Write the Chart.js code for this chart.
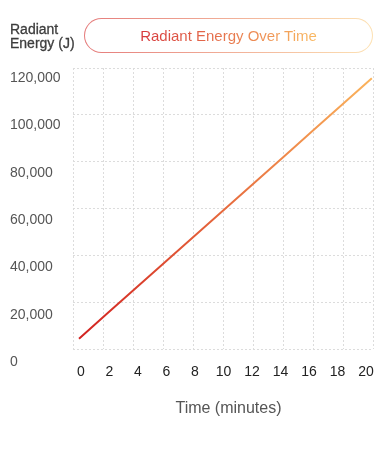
<!DOCTYPE html>
<html>
<head>
<meta charset="utf-8">
<script src="https://cdn.jsdelivr.net/npm/chart.js@4.4.1/dist/chart.umd.min.js"></script>
<style>
  html, body { margin: 0; padding: 0; background: #fff; }
  body { width: 375px; height: 450px; position: relative; overflow: hidden; font-family: 'Liberation Sans', Arial, sans-serif; }
  #wrap { position: absolute; left: 0; top: 0; width: 375px; height: 450px; }
  #ylab { position: absolute; left: 10px; top: 22px; font-size: 14px; line-height: 14px; color: #3d3d3d; white-space: nowrap; -webkit-text-stroke: 0.3px #3d3d3d; }
  #pill { position: absolute; left: 84px; top: 18px; width: 287px; height: 33px; border-radius: 18px;
          border: 1px solid transparent;
          background: linear-gradient(#fff, #fff) padding-box, linear-gradient(90deg, #e57b7b, #fde2b4) border-box;
          text-align: center; line-height: 33px; }
  #pill span { font-size: 15px; background: linear-gradient(90deg, #d6383c, #f9b961); -webkit-background-clip: text; background-clip: text; color: transparent; }
  #xlab { position: absolute; left: 128.5px; width: 200px; top: 400px; text-align: center; font-size: 16px; line-height: 16px; color: #555; }
</style>
</head>
<body>
<div id="wrap"><canvas id="c"></canvas></div>
<div id="ylab">Radiant<br>Energy (J)</div>
<div id="pill"><span>Radiant Energy Over Time</span></div>
<div id="xlab">Time (minutes)</div>
<script>
// ---- data ----
const times = [0, 2, 4, 6, 8, 10, 12, 14, 16, 18, 20];            // minutes
const energy = [10000, 21000, 32000, 43000, 54000, 65000, 76000, 87000, 98000, 109000, 120000]; // J
const xTickLabels = [0, 2, 4, 6, 8, 10, 12, 14, 16, 18, 20];
const yTickLabels = [0, 20000, 40000, 60000, 80000, 100000, 120000];

Chart.defaults.font.family = "'Liberation Sans', Arial, sans-serif";

const points = times.map((t, i) => ({ x: t, y: energy[i] }));

function lineGradient(ctx) {
  const chart = ctx.chart;
  const area = chart.chartArea;
  if (!area) return '#d11f1f';
  const g = chart.ctx.createLinearGradient(area.left, 0, area.right, 0);
  g.addColorStop(0, '#d11f1f');
  g.addColorStop(1, '#fbb45c');
  return g;
}
function zeroPad(s) { s.paddingLeft = 0; s.paddingRight = 0; s.paddingTop = 0; s.paddingBottom = 0; }

new Chart(document.getElementById('c'), {
  type: 'line',
  data: {
    datasets: [{
      data: points,
      borderColor: lineGradient,
      borderWidth: 2,
      pointRadius: 0,
      tension: 0,
      fill: false,
      xAxisID: 'x',
      yAxisID: 'y'
    }]
  },
  options: {
    responsive: true,
    maintainAspectRatio: false,
    animation: false,
    layout: { padding: { left: 10, right: 2, top: 68, bottom: 34 } },
    plugins: { legend: { display: false }, tooltip: { enabled: false } },
    scales: {
      // line x position
      x: { type: 'linear', display: false, min: -0.41, max: 20.08 },
      // line y position + value labels
      y: {
        type: 'linear', position: 'left', min: 5620, max: 124350,
        grid: { display: false }, border: { display: false },
        afterBuildTicks: s => { s.ticks = yTickLabels.map(v => ({ value: v })); },
        ticks: { crossAlign: 'far', color: '#555', font: { size: 14 }, padding: 0,
                 callback: v => Number(v).toLocaleString('en-US') },
        afterFit: s => { s.width = 63; zeroPad(s); }
      },
      // time labels
      xl: {
        type: 'linear', position: 'bottom', min: -0.561, max: 20.491,
        grid: { display: false, drawTicks: false }, border: { display: false },
        afterBuildTicks: s => { s.ticks = xTickLabels.map(v => ({ value: v })); },
        ticks: { color: '#222', font: { size: 14 }, padding: 15, autoSkip: false, maxRotation: 0 },
        afterFit: s => { s.height = 67; zeroPad(s); }
      },
      // dotted grid
      xg: {
        type: 'linear', position: 'bottom', min: 0, max: 20,
        ticks: { display: false, stepSize: 2 },
        grid: { color: '#dcdcdc', lineWidth: 1, drawTicks: false },
        border: { display: false, dash: [2, 2] },
        afterFit: s => { s.height = 0; zeroPad(s); }
      },
      yg: {
        type: 'linear', position: 'left', min: 0, max: 120000,
        ticks: { display: false, stepSize: 20000 },
        grid: { color: '#dcdcdc', lineWidth: 1, drawTicks: false },
        border: { display: false, dash: [2, 2] },
        afterFit: s => { s.width = 0; zeroPad(s); }
      }
    }
  }
});
</script>
</body>
</html>
